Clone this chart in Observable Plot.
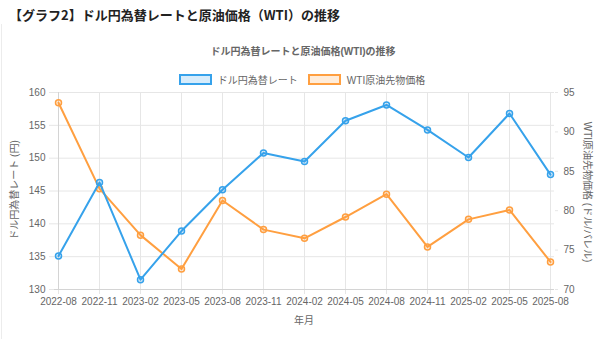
<!DOCTYPE html>
<html><head><meta charset="utf-8">
<script src="https://cdn.jsdelivr.net/npm/d3@7"></script>
<script src="https://cdn.jsdelivr.net/npm/@observablehq/plot@0.6"></script>
<style>
body{margin:0;background:#fff;width:600px;height:339px;overflow:hidden;position:relative;font-family:"Liberation Sans","Noto Sans CJK JP",sans-serif;}
.abs{position:absolute;white-space:nowrap;}
#title{left:9px;top:6px;font-weight:bold;font-size:13px;line-height:18px;font-family:"Noto Sans CJK JP",sans-serif;color:#222;}
#card{left:1px;top:24px;width:1px;height:315px;background:#ececec;}
#subtitle{left:0;width:606px;top:45px;text-align:center;font-weight:bold;font-size:10px;line-height:14px;color:#666;}
#legend{left:0;width:604px;top:73px;height:12px;display:flex;justify-content:center;align-items:center;font-size:10px;color:#666;}
.item{display:flex;align-items:center;margin:0 5px;}
.box{width:29px;height:7px;border:2px solid;margin-right:6px;}
#plot{left:0;top:80px;}
.ytitle{font-size:10px;color:#666;line-height:12px;}
</style></head>
<body>
<div id="title" class="abs">【グラフ2】ドル円為替レートと原油価格（WTI）の推移</div>
<div id="card" class="abs"></div>
<div id="subtitle" class="abs">ドル円為替レートと原油価格(WTI)の推移</div>
<div id="legend" class="abs"></div>
<div id="plot" class="abs"></div>
<div id="xtitle" class="abs ytitle" style="left:304px;top:320.5px;transform:translate(-50%,-50%);">年月</div>
<div id="ltitle" class="abs ytitle" style="left:15px;top:190px;transform:translate(-50%,-50%) rotate(-90deg);">ドル円為替レート (円)</div>
<div id="rtitle" class="abs ytitle" style="left:587px;top:192px;transform:translate(-50%,-50%) rotate(90deg);">WTI原油先物価格 (ドル/バレル)</div>
<script>
const months = ["2022-08","2022-11","2023-02","2023-05","2023-08","2023-11","2024-02","2024-05","2024-08","2024-11","2025-02","2025-05","2025-08"];
const usdjpy = [135.1,146.3,131.5,138.9,145.2,150.8,149.5,155.7,158.1,154.3,150.1,156.8,147.5];
const wti = [93.7,82.8,76.9,72.6,81.3,77.6,76.5,79.2,82.1,75.4,78.9,80.1,73.5];
const leftTicks = [130,135,140,145,150,155,160];
const rightTicks = [70,75,80,85,90,95];
const seriesNames = ["ドル円為替レート","WTI原油先物価格"];
const colors = ["#36A2EB","#FF9F40"];
const fills = ["rgba(54,162,235,0.2)","rgba(255,159,64,0.2)"];

// legend
const lg = document.getElementById("legend");
seriesNames.forEach((n,i)=>{
  const it = document.createElement("div"); it.className="item";
  const b = document.createElement("div"); b.className="box";
  b.style.borderColor = colors[i]; b.style.background = fills[i];
  const t = document.createElement("span"); t.textContent = n;
  it.appendChild(b); it.appendChild(t); lg.appendChild(it);
});

const L0 = leftTicks[0], L1 = leftTicks[leftTicks.length-1];
const R0 = rightTicks[0], R1 = rightTicks[rightTicks.length-1];
const toLeft = v => L0 + (v - R0) * (L1 - L0) / (R1 - R0);
const fromLeft = v => R0 + (v - L0) * (R1 - R0) / (L1 - L0);

const grid = "#e6e6e6";
const chart = Plot.plot({
  width: 600, height: 259,
  marginTop: 12, marginBottom: 50, marginLeft: 54, marginRight: 46,
  style: {fontFamily: '"Liberation Sans","Noto Sans CJK JP",sans-serif', fontSize: "10px", color: "#666", background: "transparent"},
  x: {type: "point", domain: months, padding: 0},
  y: {domain: [L0, L1]},
  marks: [
    Plot.gridY(leftTicks, {stroke: grid, strokeOpacity: 1}),
    Plot.gridX(months, {stroke: grid, strokeOpacity: 1}),
    Plot.axisX(months, {tickSize: 5, tickPadding: 3, stroke: grid, strokeOpacity: 1, fill: "#666", label: null, fontSize: 10}),
    Plot.axisY(leftTicks, {anchor: "left", tickSize: 5, tickPadding: 4, stroke: grid, strokeOpacity: 1, fill: "#666", label: null, fontSize: 10}),
    Plot.axisY(rightTicks.map(toLeft), {anchor: "right", tickSize: 3, tickPadding: 6, stroke: grid, strokeOpacity: 1, fill: "#666", label: null, fontSize: 10, tickFormat: d => Math.round(fromLeft(d))}),
    Plot.ruleY([L0], {stroke: "#d4d4d4"}),
    Plot.ruleX([months[0]], {stroke: "#d4d4d4"}),
    Plot.line(wti, {x: months, y: wti.map(toLeft), stroke: colors[1], strokeWidth: 2}),
    Plot.dot(wti, {x: months, y: wti.map(toLeft), r: 3, fill: fills[1], stroke: colors[1], strokeWidth: 1.5}),
    Plot.line(usdjpy, {x: months, y: usdjpy, stroke: colors[0], strokeWidth: 2}),
    Plot.dot(usdjpy, {x: months, y: usdjpy, r: 3, fill: fills[0], stroke: colors[0], strokeWidth: 1.5})
  ]
});
document.getElementById("plot").appendChild(chart);
</script>
</body></html>
